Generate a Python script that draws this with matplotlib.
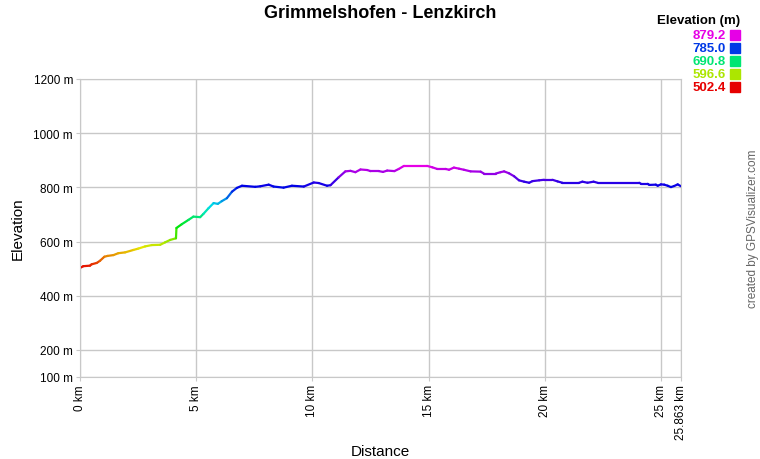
import numpy as np
import colorsys
import matplotlib
matplotlib.use("Agg")
import matplotlib.pyplot as plt
from matplotlib.collections import LineCollection

# track profile (km, m)
dist = [0.0, 0.14, 0.43, 0.5, 0.72, 0.86, 1.05, 1.19, 1.44, 1.65, 1.94, 2.3, 2.51,
        2.8, 3.09, 3.45, 3.66, 3.88, 4.13, 4.15, 4.38, 4.67, 4.88, 5.17, 5.31,
        5.53, 5.75, 5.93, 6.1, 6.32, 6.54, 6.75, 6.97, 7.54, 7.76, 8.12, 8.33,
        8.76, 9.12, 9.63, 10.06, 10.27, 10.63, 10.78, 11.13, 11.42, 11.64, 11.85,
        12.07, 12.36, 12.5, 12.86, 13.04, 13.22, 13.53, 13.72, 13.94, 14.94,
        15.16, 15.37, 15.73, 15.88, 16.09, 16.31, 16.52, 16.81, 17.24, 17.38,
        17.89, 18.1, 18.25, 18.46, 18.68, 18.89, 19.11, 19.33, 19.47, 19.76,
        19.97, 20.33, 20.55, 20.76, 21.48, 21.62, 21.84, 22.1, 22.27, 24.07,
        24.14, 24.43, 24.5, 24.78, 24.86, 25.0, 25.14, 25.29, 25.43, 25.57,
        25.72, 25.863]
elev = [502.4, 509, 511, 516, 521, 529, 544, 547, 550, 557, 560, 569, 574,
        582, 587, 588, 597, 606, 612, 650, 664, 680, 692, 690, 702,
        723, 742, 739, 749, 760, 784, 798, 806, 802, 804, 810, 803,
        799, 806, 803, 818, 816, 806, 808, 837, 859, 861, 856,
        866, 864, 860, 860, 857, 862, 860, 868, 879.2, 879.2,
        874, 868, 868, 865, 873, 869, 865, 859, 858, 851,
        851, 856, 859, 852, 841, 826, 821, 817, 823, 826,
        828, 828, 822, 817, 817, 821, 817, 821, 817, 817,
        813, 813, 809, 810, 806, 811, 810, 806, 801, 805,
        811, 804]

legend_vals = [879.2, 785.0, 690.8, 596.6, 502.4]
xticks = [0, 5, 10, 15, 20, 25, 25.863]
xlabels = ["0 km", "5 km", "10 km", "15 km", "20 km", "25 km", "25.863 km"]
yticks = [100, 200, 400, 600, 800, 1000, 1200]

emin, emax = min(legend_vals), max(legend_vals)


def elev_color(e):
    h = 300.0 * (e - emin) / (emax - emin) / 360.0
    return colorsys.hsv_to_rgb(h, 1.0, 0.9)


plt.rcParams['font.family'] = ['Liberation Sans', 'DejaVu Sans']

fig = plt.figure(figsize=(7.6, 4.6), dpi=100)
ax = fig.add_axes([80 / 760, 1 - 378 / 460, 601 / 760, 298 / 460])

x = np.array(dist)
y = np.array(elev)
pts = np.column_stack([x, y]).reshape(-1, 1, 2)
segs = np.concatenate([pts[:-1], pts[1:]], axis=1)
cols = [elev_color((a + b) / 2) for a, b in zip(y[:-1], y[1:])]
lc = LineCollection(segs, colors=cols, linewidths=1.6, capstyle='round')
ax.add_collection(lc)

ax.set_xlim(0, 25.863)
ax.set_ylim(100, 1200)
ax.set_xticks(xticks)
ax.set_xticklabels(xlabels, rotation=90, fontsize=8.5)
ax.set_yticks(yticks)
ax.set_yticklabels([f"{v} m" for v in yticks], fontsize=8.5)
ax.grid(True, color='#c8c8c8', lw=1)
ax.set_axisbelow(True)
for s in ax.spines.values():
    s.set_color('#c8c8c8')
ax.tick_params(length=3, color='#c8c8c8', pad=2)

ax.set_ylabel("Elevation", fontsize=11, labelpad=6)
fig.text(380 / 760, 1 - 452 / 460, "Distance", ha='center', va='center', fontsize=11)
fig.text(0.5, 1 - 13 / 460, "Grimmelshofen - Lenzkirch", ha='center', va='center',
         fontsize=13, fontweight='bold')

# colour legend
fig.text(740 / 760, 1 - 21 / 460, "Elevation (m)", ha='right', va='center',
         fontsize=9.5, fontweight='bold')
for i, v in enumerate(legend_vals):
    yy = 1 - (36 + i * 13) / 460
    c = elev_color(v)
    fig.text(726 / 760, yy, f"{v:.1f}", ha='right', va='center', fontsize=9.5,
             fontweight='bold', color=c)
    fig.patches.append(plt.Rectangle((730 / 760, yy - 5 / 460), 10 / 760, 10 / 460,
                                     transform=fig.transFigure, color=c))

fig.text(753 / 760, 1 - 229 / 460, "created by GPSVisualizer.com", rotation=90,
         ha='center', va='center', fontsize=8.5, color='#666666')

fig.savefig("out.png", dpi=100)
